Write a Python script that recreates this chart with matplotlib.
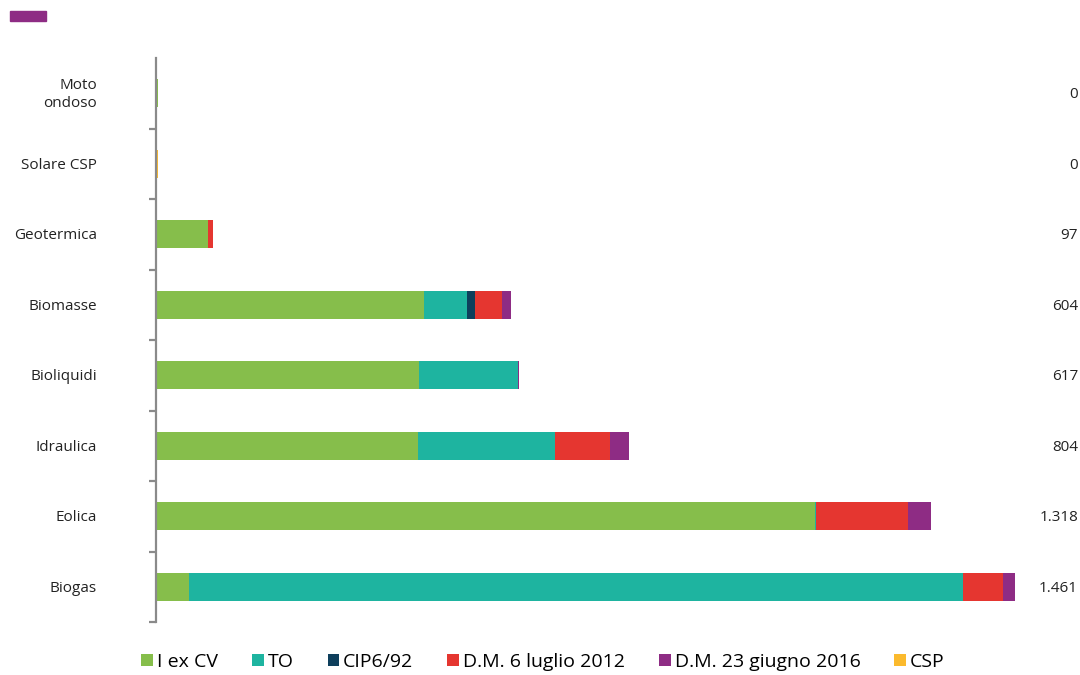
import matplotlib.pyplot as plt
from matplotlib.patches import Rectangle

plt.rcParams["font.family"] = ["Open Sans", "DejaVu Sans"]

# categories, top to bottom
categories = ["Moto\nondoso", "Solare CSP", "Geotermica", "Biomasse",
              "Bioliquidi", "Idraulica", "Eolica", "Biogas"]
totals = ["0", "0", "97", "604", "617", "804", "1.318", "1.461"]

series_names = ["I ex CV", "TO", "CIP6/92", "D.M. 6 luglio 2012",
                "D.M. 23 giugno 2016", "CSP"]
i_ex_cv = [4, 0, 88, 455, 448, 445, 1120, 56]
to = [0, 0, 0, 74, 168, 234, 2, 1316]
cip6 = [0, 0, 0, 14, 0, 0, 0, 0]
dm_2012 = [0, 0, 9, 45, 0, 93, 157, 68]
dm_2016 = [0, 0, 0, 16, 1, 32, 39, 21]
csp = [0, 4, 0, 0, 0, 0, 0, 0]

colors = ["#86BE4B", "#1EB4A0", "#0E3F5C", "#E53630", "#8E2C84", "#FBBA2E"]
series = [i_ex_cv, to, cip6, dm_2012, dm_2016, csp]

fig = plt.figure(figsize=(10.8, 6.75), dpi=100)
ax = fig.add_axes([156 / 1080, 1 - 622 / 675, (1015 - 156) / 1080, 564 / 675])

y = list(range(len(categories)))
left = [0.0] * len(categories)
for name, vals, col in zip(series_names, series, colors):
    ax.barh(y, vals, left=left, height=0.4, color=col, label=name,
            linewidth=0)
    left = [a + b for a, b in zip(left, vals)]

ax.set_xlim(0, 1461)
ax.set_ylim(len(categories) - 0.5, -0.5)

for s in ["top", "right", "bottom"]:
    ax.spines[s].set_visible(False)
ax.spines["left"].set_color("#8a8a8a")
ax.spines["left"].set_linewidth(1.6)
ax.set_xticks([])
ax.set_yticks([i + 0.5 for i in range(len(categories))])
ax.set_yticklabels([])
ax.tick_params(axis="y", length=5, width=1.6, color="#8a8a8a")

ytr = ax.get_yaxis_transform()
for i, (cat, tot) in enumerate(zip(categories, totals)):
    ax.text(-0.0687, i + 0.02, cat, transform=ytr, ha="right", va="center",
            fontsize=11, color="#222222", linespacing=1.3)
    ax.text(1.0733, i + 0.02, tot, transform=ytr, ha="right", va="center",
            fontsize=11, color="#222222")

fig.patches.append(Rectangle((10 / 1080, 1 - 21 / 675), 36 / 1080, 10 / 675,
                             transform=fig.transFigure, color="#8E2C84"))

fig.legend(loc="center", bbox_to_anchor=(543 / 1080, 1 - 662 / 675), ncol=6,
           frameon=False, fontsize=14, handlelength=0.6, handleheight=0.6,
           handletextpad=0.2, columnspacing=1.75, borderaxespad=0)

fig.savefig("out.png", dpi=100)
